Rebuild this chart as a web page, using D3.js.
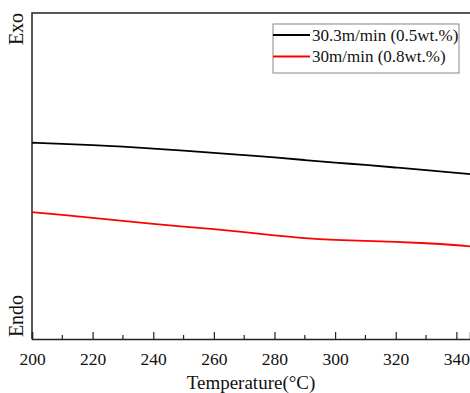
<!DOCTYPE html>
<html>
<head>
<meta charset="utf-8">
<script src="https://cdn.jsdelivr.net/npm/d3@7"></script>
<style>
  body { margin: 0; background: #fff; }
  svg { display: block; }
  svg text { font-family: 'Liberation Serif', 'Times New Roman', Times, serif !important; }
</style>
</head>
<body>
<svg id="chart" width="470" height="393"></svg>
<script>
// temperature points (°C)
const temps = [200, 210, 220, 230, 240, 250, 260, 270, 280, 290, 300, 310, 320, 330, 340, 344.5];
// heat flow, arbitrary units
const black05 = [6.02, 5.99, 5.95, 5.90, 5.84, 5.78, 5.71, 5.64, 5.57, 5.49, 5.41, 5.34, 5.26, 5.18, 5.10, 5.06];
const red08 = [3.89, 3.81, 3.72, 3.62, 3.53, 3.45, 3.37, 3.28, 3.18, 3.09, 3.04, 3.01, 2.98, 2.94, 2.88, 2.84];
const seriesNames = ['30.3m/min (0.5wt.%)', '30m/min (0.8wt.%)'];
const seriesColors = ['#000000', '#ff0000'];
const majorTicks = [200, 220, 240, 260, 280, 300, 320, 340];
const minorTicks = [210, 230, 250, 270, 290, 310, 330];

const svg = d3.select('#chart');

const plotLeft = 32, plotRight = 470, plotTop = 13, plotBottom = 339;

const x = d3.scaleLinear().domain([200, 344.5]).range([plotLeft, plotRight]);
const y = d3.scaleLinear().domain([0, 10]).range([plotBottom, plotTop]);

// frame: left + top + bottom
svg.append('path')
  .attr('d', `M${plotLeft},${plotBottom}V${plotTop}H${plotRight}`)
  .attr('fill', 'none')
  .attr('stroke', '#222')
  .attr('stroke-width', 1.5);

// x axis, ticks pointing inward
const xAxis = svg.append('g')
  .attr('transform', `translate(0,${plotBottom})`)
  .call(d3.axisBottom(x).tickValues(majorTicks).tickSize(-7).tickPadding(14).tickFormat(d3.format('d')));
xAxis.attr('font-family', null).attr('font-size', null);
xAxis.select('.domain').attr('stroke', '#222').attr('stroke-width', 1.5);
xAxis.selectAll('.tick line').attr('stroke', '#222').attr('stroke-width', 1.2);
xAxis.selectAll('.tick text')
  .attr('font-size', 17.5)
  .attr('fill', '#111');

svg.append('g')
  .attr('transform', `translate(0,${plotBottom})`)
  .selectAll('line')
  .data(minorTicks)
  .enter()
  .append('line')
  .attr('x1', d => x(d)).attr('x2', d => x(d))
  .attr('y1', 0).attr('y2', -4)
  .attr('stroke', '#222')
  .attr('stroke-width', 1.2);

// curves
const line = d3.line()
  .x((d, i) => x(temps[i]))
  .y(d => y(d))
  .curve(d3.curveBasis);

[black05, red08].forEach((vals, i) => {
  svg.append('path')
    .datum(vals)
    .attr('d', line)
    .attr('fill', 'none')
    .attr('stroke', seriesColors[i])
    .attr('stroke-width', 1.8);
});

// axis labels
svg.append('text')
  .attr('x', (plotLeft + plotRight) / 2)
  .attr('y', 389)
  .attr('text-anchor', 'middle')
  .attr('font-size', 19)
  .attr('fill', '#111')
  .text('Temperature(°C)');

svg.append('text')
  .attr('transform', 'translate(23,29) rotate(-90)')
  .attr('text-anchor', 'middle')
  .attr('font-size', 20)
  .attr('fill', '#111')
  .text('Exo');

svg.append('text')
  .attr('transform', 'translate(23,316) rotate(-90)')
  .attr('text-anchor', 'middle')
  .attr('font-size', 20)
  .attr('fill', '#111')
  .text('Endo');

// legend
const legend = svg.append('g');
legend.append('rect')
  .attr('x', 273).attr('y', 24)
  .attr('width', 186).attr('height', 49)
  .attr('fill', '#fff')
  .attr('stroke', '#888')
  .attr('stroke-width', 1);

seriesNames.forEach((name, i) => {
  const ly = 35 + i * 21.5;
  legend.append('line')
    .attr('x1', 273).attr('x2', 310)
    .attr('y1', ly).attr('y2', ly)
    .attr('stroke', seriesColors[i])
    .attr('stroke-width', 1.8);
  legend.append('text')
    .attr('x', 312)
    .attr('y', ly + 5.5)
    .attr('font-size', 17)
    .attr('fill', '#111')
    .text(name);
});
</script>
</body>
</html>
